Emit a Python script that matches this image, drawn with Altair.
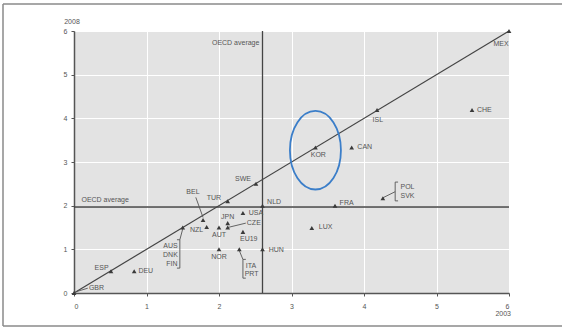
import altair as alt
import pandas as pd

# Country values: x = 2003, y = 2008
countries = ["GBR", "ESP", "DEU", "AUS", "BEL", "NZL", "TUR", "AUT", "JPN", "CZE",
             "USA", "EU19", "NOR", "ITA", "HUN", "NLD", "SWE", "KOR", "CAN", "ISL",
             "CHE", "MEX", "FRA", "LUX", "POL"]
val_2003 = [0.0, 0.51, 0.83, 1.50, 1.78, 1.83, 2.12, 2.00, 2.12, 2.12,
            2.33, 2.33, 2.00, 2.28, 2.60, 2.60, 2.51, 3.33, 3.83, 4.18,
            5.49, 6.00, 3.60, 3.28, 4.26]
val_2008 = [0.0, 0.50, 0.50, 1.50, 1.67, 1.51, 2.10, 1.50, 1.60, 1.50,
            1.83, 1.40, 1.00, 1.00, 1.00, 2.00, 2.50, 3.33, 3.33, 4.19,
            4.19, 6.00, 2.00, 1.49, 2.17]

oecd_2003 = 2.60
oecd_2008 = 1.97

# Label texts and where they sit (data units)
label_text = ["GBR", "ESP", "DEU", "AUS", "DNK", "FIN", "BEL", "NZL", "TUR", "AUT",
              "JPN", "CZE", "USA", "EU19", "NOR", "ITA", "PRT", "HUN", "NLD", "SWE",
              "KOR", "CAN", "ISL", "CHE", "MEX", "FRA", "LUX", "POL", "SVK",
              "OECD average", "OECD average"]
label_x = [0.31, 0.38, 0.99, 1.33, 1.33, 1.35, 1.64, 1.69, 1.93, 2.00,
           2.12, 2.48, 2.51, 2.41, 2.00, 2.44, 2.45, 2.79, 2.76, 2.33,
           3.37, 4.01, 4.19, 5.66, 5.89, 3.76, 3.47, 4.60, 4.60,
           2.23, 0.43]
label_y = [0.11, 0.57, 0.50, 1.08, 0.87, 0.66, 2.31, 1.44, 2.17, 1.33,
           1.73, 1.60, 1.83, 1.24, 0.82, 0.62, 0.43, 0.99, 2.08, 2.61,
           3.15, 3.34, 3.96, 4.19, 5.70, 2.06, 1.51, 2.43, 2.22,
           5.73, 2.13]

# Leader lines and brackets (data units)
seg_x = [0.03, 1.68, 1.50, 1.46, 1.46, 1.46, 2.12, 2.28, 2.33, 2.33, 2.33, 4.26, 4.43, 4.43, 4.43]
seg_y = [0.03, 2.19, 1.47, 1.22, 1.22, 0.57, 1.50, 0.97, 0.77, 0.77, 0.34, 2.18, 2.54, 2.54, 2.11]
seg_x2 = [0.19, 1.78, 1.46, 1.46, 1.42, 1.42, 2.37, 2.33, 2.33, 2.37, 2.37, 4.43, 4.43, 4.47, 4.47]
seg_y2 = [0.11, 1.73, 1.22, 0.57, 1.22, 0.57, 1.60, 0.77, 0.34, 0.77, 0.34, 2.32, 2.11, 2.54, 2.11]

diag = [0, 6]

points = pd.DataFrame({"country": countries, "x": val_2003, "y": val_2008})
labels = pd.DataFrame({"text": label_text, "x": label_x, "y": label_y})
segs = pd.DataFrame({"x": seg_x, "y": seg_y, "x2": seg_x2, "y2": seg_y2})
diag_df = pd.DataFrame({"x": diag, "y": diag})
oecd_df = pd.DataFrame({"x": [oecd_2003], "y": [oecd_2008]})
focus_df = pd.DataFrame({"x": [3.33], "y": [3.27]})

W, H = 435, 262
GREY = "#555555"
FONT = "Liberation Sans"

xs = alt.Scale(domain=[0, 6], nice=False)
ys = alt.Scale(domain=[0, 6], nice=False)

x_axis = alt.Axis(values=[0, 1, 2, 3, 4, 5, 6], format="d", title=None, grid=True,
                  gridColor="white", gridWidth=1, domainColor="#555555", domainWidth=1.5,
                  tickColor="#555555", tickSize=3, labelFontSize=7, labelColor=GREY,
                  labelFont=FONT, labelPadding=6)
y_axis = alt.Axis(values=[0, 1, 2, 3, 4, 5, 6], format="d", title=None, grid=True,
                  gridColor="white", gridWidth=1, domainColor="#555555", domainWidth=1.5,
                  tickColor="#555555", tickSize=3, labelFontSize=7, labelColor=GREY,
                  labelFont=FONT, labelPadding=4)

base_x = alt.X("x:Q", scale=xs, axis=x_axis)
base_y = alt.Y("y:Q", scale=ys, axis=y_axis)

diag_line = alt.Chart(diag_df).mark_line(color="#444444", strokeWidth=1.2).encode(x=base_x, y=base_y)

oecd_v = alt.Chart(oecd_df).mark_rule(color="#444444", strokeWidth=1.3).encode(x="x:Q")
oecd_h = alt.Chart(oecd_df).mark_rule(color="#444444", strokeWidth=1.3).encode(y="y:Q")

leaders = alt.Chart(segs).mark_rule(color="#555555", strokeWidth=0.9).encode(
    x="x:Q", y="y:Q", x2="x2:Q", y2="y2:Q")

markers = alt.Chart(points).mark_point(shape="triangle-up", filled=True, size=22,
                                       color="#3a3a3a", opacity=1).encode(x="x:Q", y="y:Q")

texts = alt.Chart(labels).mark_text(fontSize=7, font=FONT, color=GREY, align="center",
                                    baseline="middle").encode(x="x:Q", y="y:Q", text="text:N")

ellipse = alt.Chart(focus_df).mark_point(
    shape="M 0 -1 A 0.649 1 0 1 1 0 1 A 0.649 1 0 1 1 0 -1 Z",
    size=6178, filled=False, stroke="#3b7ec9", strokeWidth=1.8, opacity=1
).encode(x="x:Q", y="y:Q")

# Axis titles for the two years
year_y = alt.Chart(oecd_df).mark_text(text="2008", fontSize=7, font=FONT, color=GREY).encode(
    x=alt.value(-2), y=alt.value(-9))
year_x = alt.Chart(oecd_df).mark_text(text="2003", fontSize=7, font=FONT, color=GREY,
                                      align="right").encode(x=alt.value(437), y=alt.value(21 + H))

# Outer frame around the figure
frame_top = alt.Chart(oecd_df).mark_rule(color="#8a8a8a", strokeWidth=1.5).encode(
    x=alt.value(-71), x2=alt.value(500), y=alt.value(-27))
frame_left = alt.Chart(oecd_df).mark_rule(color="#8a8a8a", strokeWidth=1.5).encode(
    x=alt.value(-71), y=alt.value(-27), y2=alt.value(295))
frame_bottom = alt.Chart(oecd_df).mark_rule(color="#8a8a8a", strokeWidth=1.5).encode(
    x=alt.value(-71), x2=alt.value(500), y=alt.value(295))

chart = alt.layer(
    diag_line, oecd_v, oecd_h, leaders, markers, texts, ellipse,
    year_y, year_x, frame_top, frame_left, frame_bottom
).properties(
    width=W, height=H,
    autosize=alt.AutoSizeParams(type="none"),
    padding={"left": 74, "top": 31, "right": 53, "bottom": 35},
    background="white",
).configure_view(
    fill="#e3e3e3", stroke="#8a8a8a", strokeWidth=1
)

chart.save("out.html", embed_options={"renderer": "svg", "actions": False})
